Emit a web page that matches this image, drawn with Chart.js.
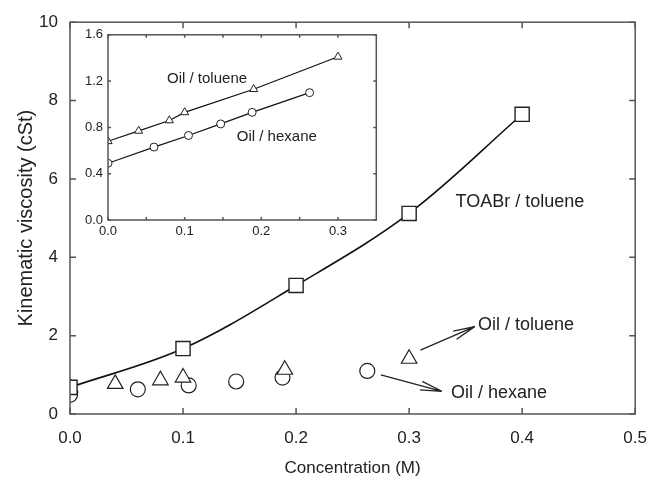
<!DOCTYPE html>
<html>
<head>
<meta charset="utf-8">
<script src="https://cdn.jsdelivr.net/npm/chart.js@4.4.0/dist/chart.umd.min.js"></script>
<style>
  html, body { margin: 0; padding: 0; background: #fff; }
  #wrap { position: relative; width: 661px; height: 483px; }
  #mainChart { position: absolute; left: 0; top: 0; }
  #insetChart { position: absolute; left: 76px; top: 22px; }
</style>
</head>
<body>
<div id="wrap">
  <canvas id="mainChart" width="661" height="483"></canvas>
  <canvas id="insetChart" width="306" height="222"></canvas>
</div>
<script>
// TOABr in toluene
let toabrConc = [0, 0.1, 0.2, 0.3, 0.4];
let toabrVisc = [0.68, 1.67, 3.28, 5.12, 7.65];

// oil in toluene
let tolConc = [0, 0.04, 0.08, 0.1, 0.19, 0.3];
let tolVisc = [0.68, 0.77, 0.86, 0.93, 1.13, 1.41];

// oil in hexane
let hexConc = [0, 0.06, 0.105, 0.147, 0.188, 0.263];
let hexVisc = [0.49, 0.63, 0.73, 0.83, 0.93, 1.1];

let mainXTicks = [0, 0.1, 0.2, 0.3, 0.4, 0.5];
let mainYTicks = [0, 2, 4, 6, 8, 10];
let insetXTicks = [0, 0.05, 0.1, 0.15, 0.2, 0.25, 0.3];
let insetYTicks = [0, 0.4, 0.8, 1.2, 1.6];

let font = "'Liberation Sans', Arial, sans-serif";
let frameColor = "#555";
let inkColor = "#222";

let toPoints = (xs, ys) => xs.map((x, i) => ({ x: x, y: ys[i] }));

// frame + inward ticks on all four sides
let framePlugin = {
  id: "frame",
  afterDraw(chart, args, opts) {
    let ctx = chart.ctx;
    let a = chart.chartArea;
    let len = opts.tickLength;
    ctx.save();
    ctx.strokeStyle = frameColor;
    ctx.lineWidth = 1.5;
    ctx.strokeRect(a.left, a.top, a.right - a.left, a.bottom - a.top);
    ctx.beginPath();
    chart.scales.x.ticks.forEach(t => {
      let px = chart.scales.x.getPixelForValue(t.value);
      ctx.moveTo(px, a.bottom); ctx.lineTo(px, a.bottom - len);
      ctx.moveTo(px, a.top); ctx.lineTo(px, a.top + len);
    });
    chart.scales.y.ticks.forEach(t => {
      let py = chart.scales.y.getPixelForValue(t.value);
      ctx.moveTo(a.left, py); ctx.lineTo(a.left + len, py);
      ctx.moveTo(a.right, py); ctx.lineTo(a.right - len, py);
    });
    ctx.stroke();
    ctx.restore();
  }
};

// text labels and arrows placed in data units
let notesPlugin = {
  id: "notes",
  afterDatasetsDraw(chart, args, opts) {
    let ctx = chart.ctx;
    let sx = chart.scales.x, sy = chart.scales.y;
    ctx.save();
    ctx.fillStyle = inkColor;
    ctx.font = opts.font;
    ctx.textAlign = "left";
    ctx.textBaseline = "middle";
    (opts.texts || []).forEach(t => {
      ctx.fillText(t.text, sx.getPixelForValue(t.x), sy.getPixelForValue(t.y));
    });
    ctx.strokeStyle = inkColor;
    ctx.lineWidth = 1.3;
    (opts.arrows || []).forEach(ar => {
      let x0 = sx.getPixelForValue(ar.from[0]), y0 = sy.getPixelForValue(ar.from[1]);
      let x1 = sx.getPixelForValue(ar.to[0]), y1 = sy.getPixelForValue(ar.to[1]);
      let ang = Math.atan2(y1 - y0, x1 - x0);
      let head = 22, spread = 0.2;
      ctx.beginPath();
      ctx.moveTo(x0, y0); ctx.lineTo(x1, y1);
      ctx.moveTo(x1, y1);
      ctx.lineTo(x1 - head * Math.cos(ang - spread), y1 - head * Math.sin(ang - spread));
      ctx.moveTo(x1, y1);
      ctx.lineTo(x1 - head * Math.cos(ang + spread), y1 - head * Math.sin(ang + spread));
      ctx.stroke();
    });
    ctx.restore();
  }
};

let fixedTicks = list => scale => { scale.ticks = list.map(v => ({ value: v })); };

let mainChart = new Chart(document.getElementById("mainChart"), {
  type: "scatter",
  data: {
    datasets: [
      {
        label: "TOABr / toluene",
        data: toPoints(toabrConc, toabrVisc),
        showLine: true,
        tension: 0.35,
        borderColor: "#111",
        borderWidth: 1.6,
        pointStyle: "rect",
        pointRadius: 10,
        pointBackgroundColor: "#fff",
        pointBorderColor: "#222",
        pointBorderWidth: 1.4
      },
      {
        label: "Oil / toluene",
        data: toPoints(tolConc, tolVisc),
        pointStyle: "triangle",
        pointRadius: 9,
        pointBackgroundColor: "#fff",
        pointBorderColor: "#222",
        pointBorderWidth: 1.2
      },
      {
        label: "Oil / hexane",
        data: toPoints(hexConc, hexVisc),
        pointStyle: "circle",
        pointRadius: 7.5,
        pointBackgroundColor: "#fff",
        pointBorderColor: "#222",
        pointBorderWidth: 1.2
      }
    ]
  },
  options: {
    responsive: false,
    animation: false,
    layout: { padding: { top: 15, right: 21, left: 0, bottom: 0 } },
    plugins: {
      legend: { display: false },
      tooltip: { enabled: false },
      frame: { tickLength: 6 },
      notes: {
        font: "18px " + font,
        texts: [
          { text: "TOABr / toluene", x: 0.341, y: 5.41 },
          { text: "Oil / toluene", x: 0.361, y: 2.28 },
          { text: "Oil / hexane", x: 0.337, y: 0.53 }
        ],
        arrows: [
          { from: [0.31, 1.63], to: [0.358, 2.23] },
          { from: [0.275, 1.0], to: [0.329, 0.58] }
        ]
      }
    },
    scales: {
      x: {
        type: "linear",
        min: 0,
        max: 0.5,
        afterBuildTicks: fixedTicks(mainXTicks),
        afterFit: s => { s.height = 69; },
        grid: { display: false, drawTicks: false },
        border: { display: false },
        ticks: {
          color: inkColor,
          font: { family: font, size: 17 },
          padding: 14,
          maxRotation: 0,
          callback: v => v.toFixed(1)
        },
        title: {
          display: true,
          text: "Concentration (M)",
          color: inkColor,
          font: { family: font, size: 17 },
          padding: { top: 10 }
        }
      },
      y: {
        type: "linear",
        min: 0,
        max: 10,
        afterBuildTicks: fixedTicks(mainYTicks),
        afterFit: s => { s.width = 70; },
        grid: { display: false, drawTicks: false },
        border: { display: false },
        ticks: {
          color: inkColor,
          font: { family: font, size: 17 },
          padding: 12
        },
        title: {
          display: true,
          text: "Kinematic viscosity (cSt)",
          color: inkColor,
          font: { family: font, size: 20 },
          padding: { top: 14, bottom: 0 }
        }
      }
    }
  },
  plugins: [framePlugin, notesPlugin]
});

let insetChart = new Chart(document.getElementById("insetChart"), {
  type: "scatter",
  data: {
    datasets: [
      {
        label: "Oil / toluene",
        data: toPoints(tolConc, tolVisc),
        showLine: true,
        borderColor: "#111",
        borderWidth: 1.2,
        pointStyle: "triangle",
        pointRadius: 4.7,
        pointBackgroundColor: "#fff",
        pointBorderColor: "#222",
        pointBorderWidth: 1
      },
      {
        label: "Oil / hexane",
        data: toPoints(hexConc, hexVisc),
        showLine: true,
        borderColor: "#111",
        borderWidth: 1.2,
        pointStyle: "circle",
        pointRadius: 4,
        pointBackgroundColor: "#fff",
        pointBorderColor: "#222",
        pointBorderWidth: 1
      }
    ]
  },
  options: {
    responsive: false,
    animation: false,
    layout: { padding: { top: 11, right: 4, left: 0, bottom: 0 } },
    plugins: {
      legend: { display: false },
      tooltip: { enabled: false },
      frame: { tickLength: 3 },
      notes: {
        font: "15px " + font,
        texts: [
          { text: "Oil / toluene", x: 0.077, y: 1.217 },
          { text: "Oil / hexane", x: 0.168, y: 0.72 }
        ]
      }
    },
    scales: {
      x: {
        type: "linear",
        min: 0,
        max: 0.35,
        afterBuildTicks: fixedTicks(insetXTicks),
        afterFit: s => { s.height = 24; },
        grid: { display: false, drawTicks: false },
        border: { display: false },
        ticks: {
          color: inkColor,
          font: { family: font, size: 13 },
          padding: 4,
          maxRotation: 0,
          autoSkip: false,
          callback: (v, i) => (i % 2 == 0 ? v.toFixed(1) : "")
        }
      },
      y: {
        type: "linear",
        min: 0,
        max: 1.6,
        afterBuildTicks: fixedTicks(insetYTicks),
        afterFit: s => { s.width = 32; },
        grid: { display: false, drawTicks: false },
        border: { display: false },
        ticks: {
          color: inkColor,
          font: { family: font, size: 13 },
          padding: 5,
          callback: v => v.toFixed(1)
        }
      }
    }
  },
  plugins: [framePlugin, notesPlugin]
});
</script>
</body>
</html>
